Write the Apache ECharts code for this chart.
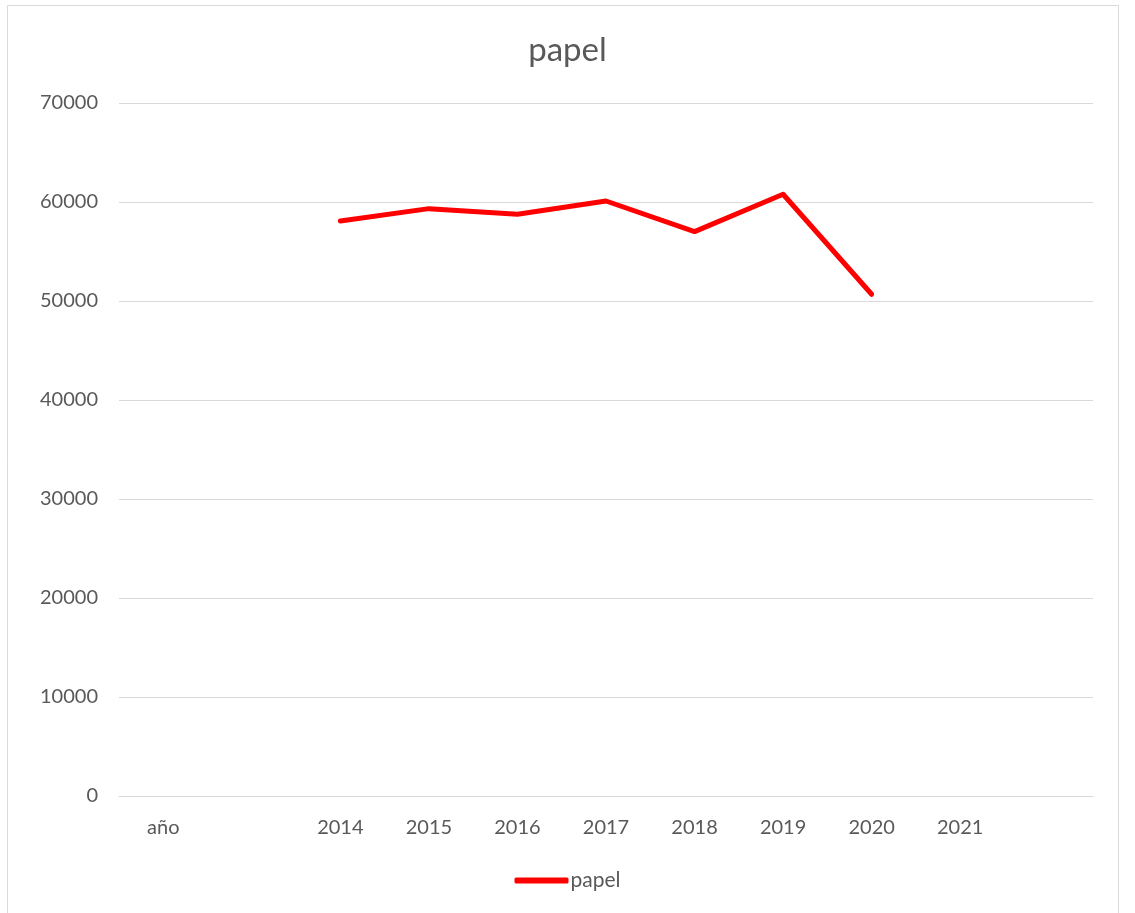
<!DOCTYPE html>
<html>
<head>
<meta charset="utf-8">
<script src="https://cdn.jsdelivr.net/npm/echarts@6/dist/echarts.min.js"></script>
<style>
  html, body { margin: 0; padding: 0; background: #fff; }
  #chart { width: 1135px; height: 913px; }
</style>
</head>
<body>
<div id="chart"></div>
<script>
const titleText = "papel";
const seriesName = "papel";
const categories = ["año", " ", "2014", "2015", "2016", "2017", "2018", "2019", "2020", "2021", "  "];
const papelValues = [null, null, 58080, 59330, 58760, 60100, 57010, 60780, 50680, null, null];
const yMin = 0, yMax = 70000, yInterval = 10000;

const FONT = "Lato";
const TXT = "#595959";
const GRID = "#d9d9d9";

const chart = echarts.init(document.getElementById("chart"), null, { renderer: "canvas" });
chart.setOption({
  animation: false,
  backgroundColor: "#ffffff",
  title: {
    text: titleText,
    left: "center",
    top: 29,
    textStyle: { fontFamily: FONT, fontSize: 33, fontWeight: "normal", color: TXT }
  },
  graphic: [{
    type: "rect",
    shape: { x: 7.5, y: 5.5, width: 1111, height: 930 },
    style: { fill: "none", stroke: GRID, lineWidth: 1 },
    silent: true
  }],
  legend: {
    bottom: 17,
    left: "center",
    itemWidth: 54,
    itemHeight: 6,
    itemGap: 10,
    textStyle: { fontFamily: FONT, fontSize: 21, color: TXT, padding: [0, 0, 0, -3] },
    data: [{ name: seriesName, icon: "roundRect" }]
  },
  grid: { left: 119, right: 42, top: 103, bottom: 117, containLabel: false },
  xAxis: {
    type: "category",
    data: categories,
    boundaryGap: true,
    axisLine: { show: true, lineStyle: { color: GRID, width: 1 } },
    axisTick: { show: false },
    axisLabel: { interval: 0, margin: 22, fontFamily: FONT, fontSize: 20, color: TXT },
    splitLine: { show: false }
  },
  yAxis: {
    type: "value",
    min: yMin,
    max: yMax,
    interval: yInterval,
    axisLine: { show: false },
    axisTick: { show: false },
    axisLabel: { margin: 21, fontFamily: FONT, fontSize: 20, color: TXT, formatter: function (v) { return String(v); } },
    splitLine: { show: true, lineStyle: { color: GRID, width: 1 } }
  },
  series: [{
    name: seriesName,
    type: "line",
    data: papelValues,
    symbol: "none",
    showSymbol: false,
    connectNulls: false,
    lineStyle: { color: "#ff0000", width: 5, cap: "round", join: "round" },
    itemStyle: { color: "#ff0000" }
  }]
});
</script>
</body>
</html>
